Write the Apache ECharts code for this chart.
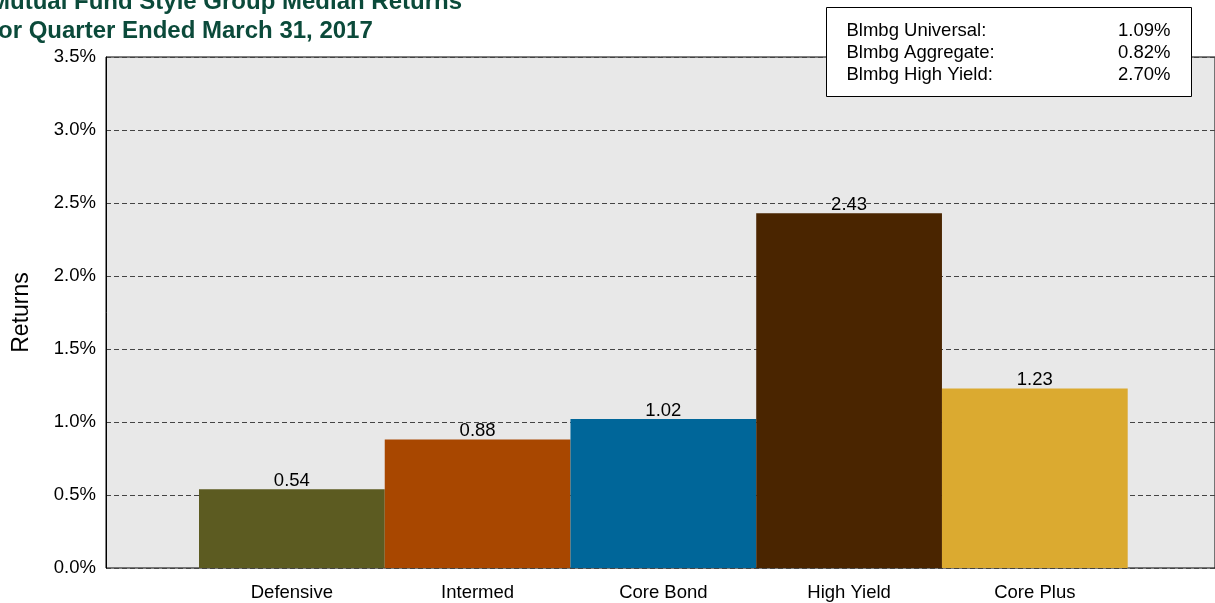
<!DOCTYPE html>
<html>
<head>
<meta charset="utf-8">
<script src="https://cdn.jsdelivr.net/npm/echarts@6/dist/echarts.min.js"></script>
<style>
html,body{margin:0;padding:0;background:#fff;}
#chart{width:1215px;height:603px;}
</style>
</head>
<body>
<div id="chart"></div>
<script>
var titleLines = ['Mutual Fund Style Group Median Returns', 'for Quarter Ended March 31, 2017'];
var categories = ['Defensive', 'Intermed', 'Core Bond', 'High Yield', 'Core Plus'];
var medianReturns = [0.54, 0.88, 1.02, 2.43, 1.23];
var barColors = ['#5c5b21', '#a84700', '#006699', '#4a2500', '#dbaa30'];
var benchLabels = ['Blmbg Universal:', 'Blmbg Aggregate:', 'Blmbg High Yield:'];
var benchValues = ['1.09%', '0.82%', '2.70%'];
var yMin = 0, yMax = 3.5, yStep = 0.5;

var FONT = 'Liberation Sans, Arial, sans-serif';
var chart = echarts.init(document.getElementById('chart'));

var legendChildren = [{
  type: 'rect', z: 100, shape: {x: 0, y: 0, width: 365, height: 89},
  style: {fill: '#fff', stroke: '#000', lineWidth: 1}
}];
benchLabels.forEach(function (lab, i) {
  legendChildren.push({type: 'text', z: 101, x: 20, y: 23 + i * 22.3,
    style: {text: lab, font: '18.5px ' + FONT, fill: '#000', textAlign: 'left', textVerticalAlign: 'middle'}});
  legendChildren.push({type: 'text', z: 101, x: 344, y: 23 + i * 22.3,
    style: {text: benchValues[i], font: '18.5px ' + FONT, fill: '#000', textAlign: 'right', textVerticalAlign: 'middle'}});
});

chart.setOption({
  animation: false,
  title: {
    text: titleLines.join('\n'), left: -15, top: -17,
    textStyle: {fontFamily: FONT, fontSize: 24, fontWeight: 'bold', color: '#0b4a3a', lineHeight: 29}
  },
  grid: [
    {left: 106, right: -5, top: 57, bottom: 35, show: true, backgroundColor: '#e8e8e8', borderColor: '#000', borderWidth: 1, containLabel: false},
    {left: 199, right: 87.3, top: 57, bottom: 35, containLabel: false}
  ],
  xAxis: [
    {gridIndex: 0, type: 'value', min: 0, max: 1, show: false},
    {gridIndex: 1, type: 'category', data: categories, boundaryGap: true,
      axisLine: {show: false}, axisTick: {show: false},
      axisLabel: {margin: 15, color: '#000', fontFamily: FONT, fontSize: 18.5}}
  ],
  yAxis: [
    {gridIndex: 0, type: 'value', min: yMin, max: yMax, interval: yStep,
      name: 'Returns', nameLocation: 'middle', nameGap: 73,
      nameTextStyle: {fontFamily: FONT, fontSize: 23, color: '#000'},
      axisLine: {show: true, lineStyle: {color: '#000', width: 1}}, axisTick: {show: false},
      axisLabel: {margin: 10, color: '#000', fontFamily: FONT, fontSize: 18.5,
        formatter: function (v) { return v.toFixed(1) + '%'; }},
      splitLine: {show: true, lineStyle: {color: '#444', type: [5, 3], width: 1}}},
    {gridIndex: 1, type: 'value', min: yMin, max: yMax, interval: yStep, show: false,
      splitLine: {show: false}}
  ],
  series: [{
    type: 'bar', xAxisIndex: 1, yAxisIndex: 1,
    barCategoryGap: 0,
    data: medianReturns.map(function (v, i) { return {value: v, itemStyle: {color: barColors[i]}}; }),
    label: {show: true, position: 'top', distance: -1, color: '#000', fontFamily: FONT, fontSize: 18.5,
      formatter: function (p) { return p.value.toFixed(2); }},
    z: 3
  }],
  graphic: {elements: [{type: 'group', x: 826.5, y: 7.5, z: 100, zlevel: 1, children: legendChildren}]}
});
</script>
</body>
</html>
